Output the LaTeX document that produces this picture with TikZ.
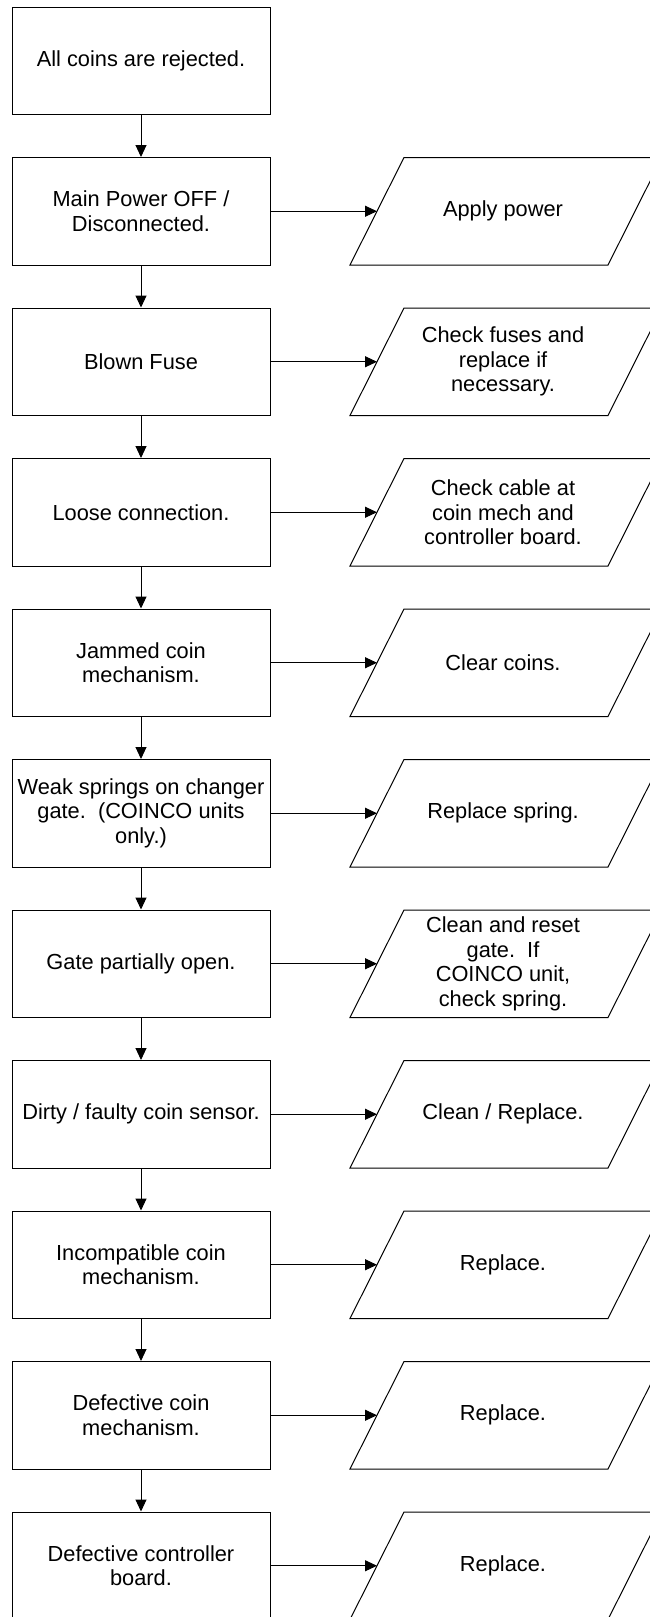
\documentclass[tikz,border=0pt]{standalone}
\usepackage{fontspec}
\setmainfont{Liberation Sans}
\usetikzlibrary{arrows.meta}

\tikzset{
cause/.style={draw=black,line width=1pt,minimum width=258pt,minimum height=107.5pt,inner sep=0pt,align=center,font=\fontsize{21.8}{24.5}\selectfont},
remedy/.style={inner sep=0pt,align=center,font=\fontsize{21.8}{24.5}\selectfont},
slab/.style={draw=black,line width=1pt},
flow/.style={draw=black,line width=1pt,-{Triangle[length=12pt,width=11pt]}}
}

\begin{document}
\begin{tikzpicture}[x=1pt,y=-1pt]
\clip (0,0) rectangle (650,1617);
\node[cause] (c1) at (141,60.75) {All coins are rejected.};
\node[cause] (c2) at (141,211.25) {Main Power OFF /\\Disconnected.};
\node[cause] (c3) at (141,361.75) {Blown Fuse};
\node[cause] (c4) at (141,512.25) {Loose connection.};
\node[cause] (c5) at (141,662.75) {Jammed coin\\mechanism.};
\node[cause] (c6) at (141,813.25) {Weak springs on changer\\gate.\ \ (COINCO units\\only.)};
\node[cause] (c7) at (141,963.75) {Gate partially open.};
\node[cause] (c8) at (141,1114.25) {Dirty / faulty coin sensor.};
\node[cause] (c9) at (141,1264.75) {Incompatible coin\\mechanism.};
\node[cause] (c10) at (141,1415.25) {Defective coin\\mechanism.};
\node[cause] (c11) at (141,1565.75) {Defective controller\\board.};

\draw[slab] (350,265) -- (608,265) -- (662,157.5) -- (404,157.5) -- cycle;
\draw[slab] (350,415.5) -- (608,415.5) -- (662,308) -- (404,308) -- cycle;
\draw[slab] (350,566) -- (608,566) -- (662,458.5) -- (404,458.5) -- cycle;
\draw[slab] (350,716.5) -- (608,716.5) -- (662,609) -- (404,609) -- cycle;
\draw[slab] (350,867) -- (608,867) -- (662,759.5) -- (404,759.5) -- cycle;
\draw[slab] (350,1017.5) -- (608,1017.5) -- (662,910) -- (404,910) -- cycle;
\draw[slab] (350,1168) -- (608,1168) -- (662,1060.5) -- (404,1060.5) -- cycle;
\draw[slab] (350,1318.5) -- (608,1318.5) -- (662,1211) -- (404,1211) -- cycle;
\draw[slab] (350,1469) -- (608,1469) -- (662,1361.5) -- (404,1361.5) -- cycle;
\draw[slab] (350,1619.5) -- (608,1619.5) -- (662,1512) -- (404,1512) -- cycle;

\node[remedy] (r2) at (503,211.25) {Apply power};
\node[remedy] (r3) at (503,361.75) {Check fuses and\\replace if\\necessary.};
\node[remedy] (r4) at (503,512.25) {Check cable at\\coin mech and\\controller board.};
\node[remedy] (r5) at (503,662.75) {Clear coins.};
\node[remedy] (r6) at (503,813.25) {Replace spring.};
\node[remedy] (r7) at (503,963.75) {Clean and reset\\gate.\ \ If\\COINCO unit,\\check spring.};
\node[remedy] (r8) at (503,1114.25) {Clean / Replace.};
\node[remedy] (r9) at (503,1264.75) {Replace.};
\node[remedy] (r10) at (503,1415.25) {Replace.};
\node[remedy] (r11) at (503,1565.75) {Replace.};

\coordinate (e2) at (377,211.25);
\coordinate (e3) at (377,361.75);
\coordinate (e4) at (377,512.25);
\coordinate (e5) at (377,662.75);
\coordinate (e6) at (377,813.25);
\coordinate (e7) at (377,963.75);
\coordinate (e8) at (377,1114.25);
\coordinate (e9) at (377,1264.75);
\coordinate (e10) at (377,1415.25);
\coordinate (e11) at (377,1565.75);

\draw[flow] (c1) -- (c2);
\draw[flow] (c2) -- (c3);
\draw[flow] (c3) -- (c4);
\draw[flow] (c4) -- (c5);
\draw[flow] (c5) -- (c6);
\draw[flow] (c6) -- (c7);
\draw[flow] (c7) -- (c8);
\draw[flow] (c8) -- (c9);
\draw[flow] (c9) -- (c10);
\draw[flow] (c10) -- (c11);
\draw[flow] (c2.east) -- (e2);
\draw[flow] (c3.east) -- (e3);
\draw[flow] (c4.east) -- (e4);
\draw[flow] (c5.east) -- (e5);
\draw[flow] (c6.east) -- (e6);
\draw[flow] (c7.east) -- (e7);
\draw[flow] (c8.east) -- (e8);
\draw[flow] (c9.east) -- (e9);
\draw[flow] (c10.east) -- (e10);
\draw[flow] (c11.east) -- (e11);
\end{tikzpicture}
\end{document}
